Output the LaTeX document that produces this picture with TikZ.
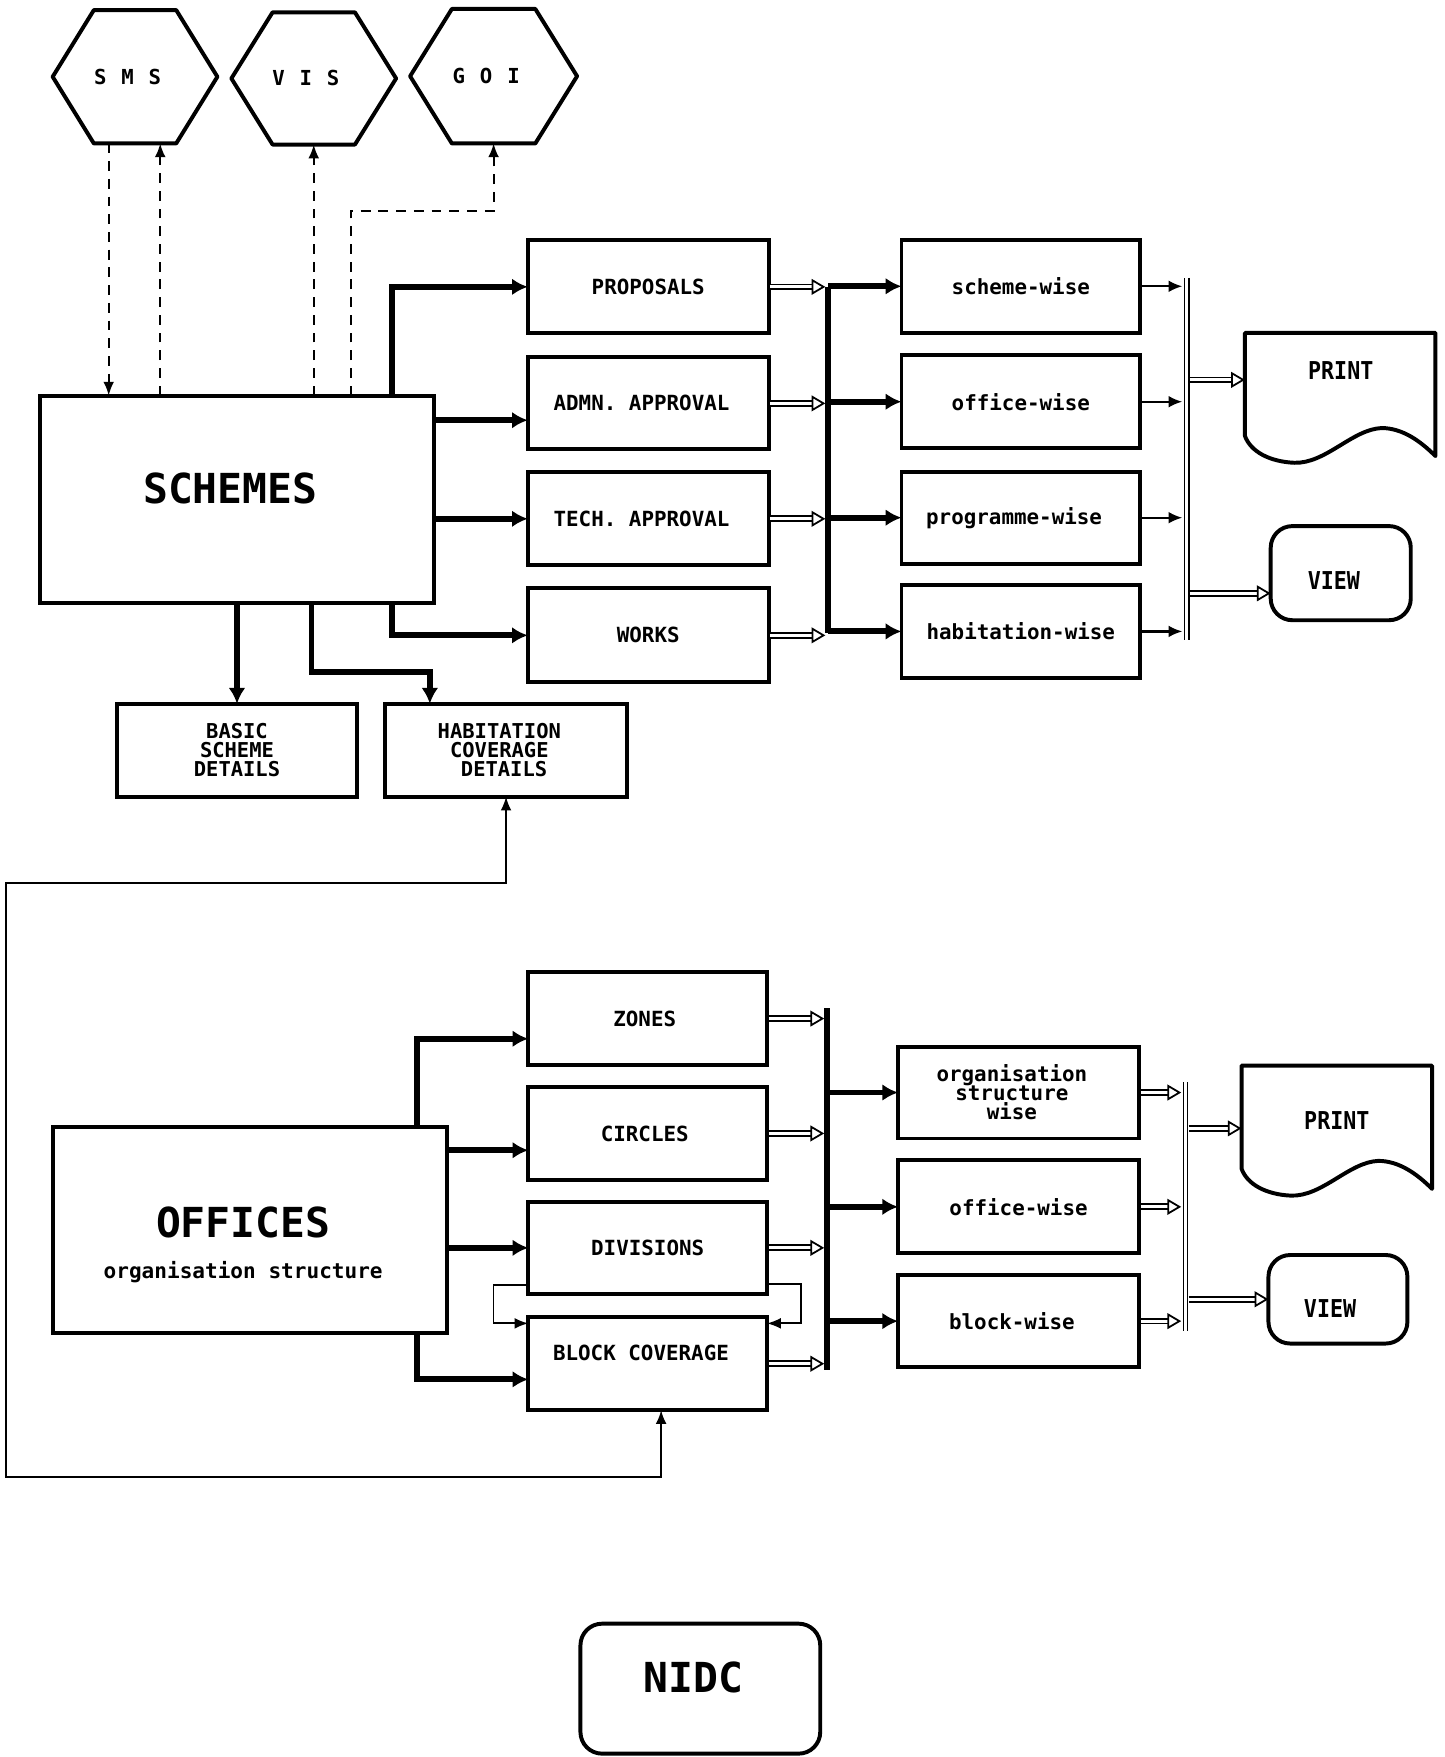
\documentclass[tikz,border=0pt]{standalone}
\usepackage{fontspec}
\usepackage{graphicx}
\setmainfont{DejaVu Sans Mono}
\usetikzlibrary{arrows.meta,calc}
\newcommand{\upx}{0.02cm}
\newcommand{\hexfont}{\fontsize{10.5}{10}\selectfont\bfseries\addfontfeature{LetterSpace=72}}
\newcommand{\bigfont}{\fontsize{21}{21}\selectfont\bfseries}
\newcommand{\printfont}{\fontsize{12.5}{12}\selectfont\bfseries}
\newcommand{\tightfont}{\fontsize{10.4}{9.6}\selectfont\bfseries}
\newcommand{\lk}{\kern6.8pt}
\newcommand{\docshape}[1]{\begin{scope}[shift={(#1.north west)}]
 \draw[outline] (0,0) -- (170,0) -- (170,110) .. controls (156,96) and (140,85) .. (122,85) .. controls (96,86) and (72,117) .. (44,116) .. controls (22,115) and (5,106) .. (0,92) -- cycle;
\end{scope}}
\newcommand{\hexshape}[1]{\draw[outline] (#1.west) -- ($(#1.north west)!0.25!(#1.north east)$) -- ($(#1.north west)!0.75!(#1.north east)$) -- (#1.east) -- ($(#1.south west)!0.75!(#1.south east)$) -- ($(#1.south west)!0.25!(#1.south east)$) -- cycle;}
\tikzset{
  every node/.style={font=\fontsize{10.6}{10}\selectfont\bfseries, inner sep=0pt, outer sep=0pt},
  sz/.style 2 args={minimum width=#1*\upx, minimum height=#2*\upx},
  outline/.style={line width=2pt, line join=round},
  boxnode/.style={draw, line width=2pt, align=center},
  roundbox/.style={draw, line width=2pt, rounded corners=11pt, align=center},
  thk/.style={line width=3pt, -{Latex[length=8pt,width=8.5pt]}},
  hollow/.style={double, double distance=1.6pt, line width=0.9pt, shorten <=0.9pt, -{Triangle[open,length=7pt,width=8pt]}},
  thinarr/.style={line width=1.1pt, -{Latex[length=7pt,width=6pt]}},
  dasharr/.style={line width=1pt, dash pattern=on 5pt off 4pt, -{Latex[length=7pt,width=5.5pt]}},
  thinline/.style={line width=0.9pt, -{Latex[length=7pt,width=5.5pt]}},
  bothline/.style={line width=0.9pt, {Latex[length=7pt,width=5.5pt]}-{Latex[length=7pt,width=5.5pt]}},
  busline/.style={line width=2.8pt},
  dblbar/.style={double, double distance=1.4pt, line width=0.8pt},
}
\begin{document}
\begin{tikzpicture}[x=0.02cm, y=-0.02cm]
\fill[white] (0,0) rectangle (1289,1568);
\useasboundingbox (0,0) rectangle (1289,1568);

% ---------- hexagons ----------
\node[sz={147}{119}, font=\hexfont] (sms) at (120.5,68.5) {SMS\kern7.5pt};
\node[sz={147}{118}, font=\hexfont] (vis) at (280,70) {VIS\kern8pt};
\node[sz={149}{120}, font=\hexfont] (goi) at (440.5,68) {GOI\kern7.5pt};
\hexshape{sms}
\hexshape{vis}
\hexshape{goi}

% ---------- upper part ----------
\node[boxnode, sz={351}{185}, font=\bigfont, text depth=10.8pt] (schemes) at (211.5,445.5) {SCHEMES\lk};

\node[boxnode, sz={215}{83}] (prop)  at (578.5,256) {PROPOSALS};
\node[boxnode, sz={215}{82}] (admn)  at (578.5,360) {ADMN. APPROVAL\lk};
\node[boxnode, sz={215}{83}] (tech)  at (578.5,463) {TECH. APPROVAL\lk};
\node[boxnode, sz={215}{84}] (works) at (578.5,567) {WORKS};

\node[boxnode, sz={213}{83}] (sw) at (911,255.5) {scheme-wise};
\node[boxnode, sz={213}{83}] (ow) at (911,358.5) {office-wise};
\node[boxnode, sz={213}{82}] (pw) at (911,462) {programme-wise\lk};
\node[boxnode, sz={213}{83}] (hw) at (911,563.5) {habitation-wise};

\node[sz={171}{67}, font=\printfont] (print1) at (1196.5,330.5) {\scalebox{0.88}[1]{PRINT}};
\docshape{print1}
\node[roundbox, sz={125}{84}, font=\printfont, text height=17pt, text depth=0pt] (view1) at (1196.5,511.5) {\scalebox{0.88}[1]{VIEW}\kern7pt};

\node[boxnode, sz={215}{83}, font=\tightfont] (basic) at (211.5,669.5) {BASIC\\SCHEME\\DETAILS};
\node[boxnode, sz={216}{83}, font=\tightfont] (hab) at (451.6,669.5) {HABITATION\lk\\COVERAGE\lk\\DETAILS\kern2pt};

% ---------- lower part ----------
\node[boxnode, sz={351}{184}, font=\bigfont] (offices) at (223,1098) {\rule{0pt}{30pt}OFFICES\lk\\{\fontsize{10.7}{11}\selectfont organisation structure\lk}};

\node[boxnode, sz={213}{83}] (zones)   at (578,909) {ZONES\kern3pt};
\node[boxnode, sz={213}{83}] (circles) at (578,1011.5) {CIRCLES\kern3pt};
\node[boxnode, sz={213}{82}] (divs)    at (578,1113.6) {DIVISIONS};
\node[boxnode, sz={213}{83}, text depth=11.4pt] (block) at (578,1217) {BLOCK COVERAGE\lk};

\node[boxnode, sz={215}{82}, font=\fontsize{10.6}{9.7}\selectfont\bfseries] (osw) at (909,975) {organisation\lk\\structure\lk\\wise\lk};
\node[boxnode, sz={215}{83}] (owl) at (909,1077) {office-wise};
\node[boxnode, sz={215}{82}] (bw)  at (909,1179) {block-wise\lk};

\node[sz={170}{98}, font=\printfont] (print2) at (1193,1000) {\scalebox{0.88}[1]{PRINT}};
\docshape{print2}
\node[roundbox, sz={124}{79}, font=\printfont, text height=18.4pt, text depth=0pt] (view2) at (1194,1159.5) {\scalebox{0.88}[1]{VIEW}\kern8pt};

\node[roundbox, sz={214}{116}, font=\bigfont, text depth=11.4pt] (nidc) at (625,1507) {NIDC\kern7pt};

% ---------- bus and bar coordinates ----------
\coordinate (b1t) at (739,256);  \coordinate (b1b) at (739,565);
\coordinate (d1t) at (1059,248); \coordinate (d1b) at (1059,571);
\coordinate (b2t) at (738,900);  \coordinate (b2b) at (738,1223);
\coordinate (d2t) at (1058,966); \coordinate (d2b) at (1058,1188);

% ---------- dashed links to hexagons ----------
\draw[dasharr] ($(sms.south)+(-23.5,0)$) coordinate (s1) -- (s1 |- schemes.north);
\draw[dasharr] ($(schemes.north)+(-68.5,0)$) coordinate (s2) -- (s2 |- sms.south);
\draw[dasharr] (vis.south |- schemes.north) -- (vis.south);
\draw[dasharr] ($(schemes.north)+(101.5,0)$) |- ($(goi.south)+(0,60)$) -- (goi.south);

% ---------- schemes to processing boxes ----------
\coordinate (a2) at ($(admn.west)+(0,15)$);
\draw[thk] ($(schemes.north west)+(314,0)$) |- (prop.west);
\draw[thk] (schemes.east |- a2) -- (a2);
\draw[thk] (schemes.east |- tech.west) -- (tech.west);
\draw[thk] ($(schemes.south west)+(314,0)$) |- (works.west);
\draw[thk] (schemes.south -| basic.north) -- (basic.north);
\draw[thk] ($(schemes.south west)+(242,0)$) |- ($(hab.north)+(-68,-28)$) -- ($(hab.north)+(-68,0)$);

\foreach \b in {prop,admn,tech,works}{\draw[hollow, shorten >=1.4pt] (\b.east) -- (\b.east -| b1t);}
\draw[busline] (b1t) -- (b1b);
\foreach \b in {sw,ow,pw,hw}{\draw[thk] (\b.west -| b1t) -- (\b.west);}
\foreach \b in {sw,ow,pw,hw}{\draw[thinarr, shorten >=2.2pt] (\b.east) -- (\b.east -| d1t);}
\draw[dblbar] (d1t) -- (d1b);
\coordinate (p1) at ($(print1.west)+(0,8.5)$);
\coordinate (v1) at ($(view1.west)+(0,18)$);
\draw[hollow, shorten <=1.6pt] (d1t |- p1) -- (p1);
\draw[hollow, shorten <=1.6pt] (d1t |- v1) -- (v1);

% ---------- offices to organisation boxes ----------
\coordinate (z2) at ($(zones.west)+(0,18)$);
\coordinate (c2) at ($(circles.west)+(0,15)$);
\coordinate (k2) at ($(block.west)+(0,14)$);
\draw[thk] ($(offices.north west)+(325,0)$) |- (z2);
\draw[thk] (offices.east |- c2) -- (c2);
\draw[thk] (offices.east |- divs.west) -- (divs.west);
\draw[thk] ($(offices.south west)+(325,0)$) |- (k2);

\draw[thinline] ($(divs.west)+(0,33)$) -- ++(-31,0) |- ($(block.west)+(0,-36)$);
\draw[thinline] ($(divs.east)+(0,32)$) -- ++(30,0) |- ($(block.east)+(0,-36)$);

\foreach \b in {zones,circles,divs,block}{\draw[hollow, shorten >=1.4pt] (\b.east) -- (\b.east -| b2t);}
\draw[busline] (b2t) -- (b2b);
\foreach \b in {osw,owl,bw}{\draw[thk] (\b.west -| b2t) -- (\b.west);}
\foreach \b in {osw,owl,bw}{\draw[hollow, shorten >=2.2pt] (\b.east) -- (\b.east -| d2t);}
\draw[dblbar] (d2t) -- (d2b);
\coordinate (p2) at ($(print2.west)+(0,7)$);
\draw[hollow, shorten <=1.6pt] (d2t |- p2) -- (p2);
\draw[hollow, shorten <=1.6pt] (d2t |- view2.west) -- (view2.west);

% ---------- return line ----------
\draw[bothline] (hab.south) -- ++(0,77) -- ++(-446,0) -- ++(0,530) -| ($(block.south)+(12,0)$);
\end{tikzpicture}
\end{document}
